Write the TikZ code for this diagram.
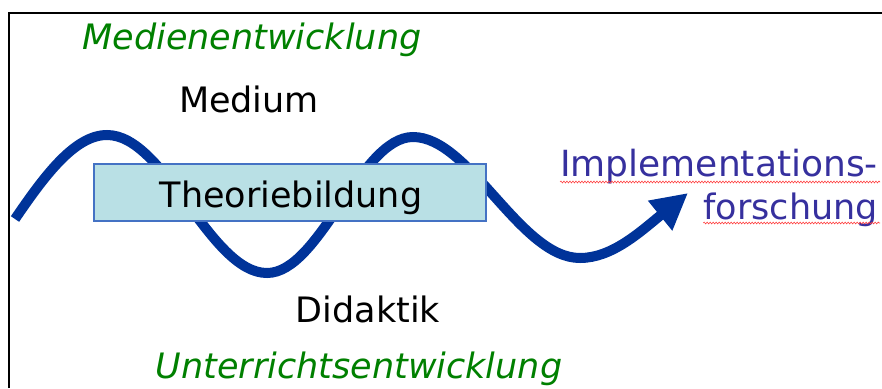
\documentclass[tikz,border=0pt]{standalone}
\usepackage{fontspec}
\setmainfont{DejaVu Sans}
\usetikzlibrary{arrows.meta,decorations.pathmorphing}
\definecolor{wave}{HTML}{003399}
\definecolor{boxfill}{HTML}{B9E0E5}
\definecolor{boxline}{HTML}{4472C4}
\definecolor{green1}{HTML}{008000}
\definecolor{impl}{HTML}{36309E}
\tikzset{
  lbl/.style={inner sep=0pt, font=\fontsize{35}{42}\selectfont},
  green lbl/.style={lbl, text=green1, font=\fontsize{35}{42}\selectfont\itshape},
  impl lbl/.style={lbl, text=impl, anchor=base east},
  wavy/.style={line width=10pt, draw=wave},
  squiggle/.style={draw=red!75, line width=0.6pt, decorate, decoration={snake, amplitude=0.9pt, segment length=3pt}},
}
\begin{document}
\begin{tikzpicture}[x=1pt, y=-1pt]
\useasboundingbox (0,0) rectangle (882,388);
% frame
\draw[line width=2pt] (8.7,388) -- (8.7,13.3) -- (882,13.3);
% wave
\coordinate (w0) at (15,219);
\coordinate (p1) at (107,135);
\coordinate (t1) at (267,273);
\coordinate (p2) at (413,137);
\coordinate (t2) at (580,258);
\coordinate (tip) at (688,193);
\draw[wavy, -{Triangle[length=36pt,width=36pt]}]
  (w0) .. controls (45,175) and (75,135) .. (p1)
  .. controls (165,135) and (210,273) .. (t1)
  .. controls (320,273) and (360,137) .. (p2)
  .. controls (470,137) and (520,258) .. (t2)
  .. controls (612,258) and (640,232) .. (tip);
% box
\node[draw=boxline, fill=boxfill, line width=1.3pt, minimum width=392pt, minimum height=57pt, inner sep=0pt] (box) at (290,192.5) {};
\node[lbl, anchor=base] (theo) at (291,207) {Theoriebildung};
% labels
\node[green lbl, anchor=base] (medent) at (252,49) {Medienentwicklung};
\node[lbl, anchor=base] (medium) at (249,112) {Medium};
\node[lbl, anchor=base] (didaktik) at (368,322) {Didaktik};
\node[green lbl, anchor=base] (unter) at (359,378) {Unterrichtsentwicklung};
\node[impl lbl, font=\fontsize{36}{43}\selectfont] (impl1) at (878,176) {Implementations-};
\node[impl lbl] (impl2) at (878,219) {forschung};
% spell-check squiggles
\draw[squiggle] ([yshift=-6pt]impl1.base west) -- ([xshift=2pt,yshift=-6pt]impl1.base east);
\draw[squiggle] ([yshift=-4pt]impl2.base west) -- ([xshift=2pt,yshift=-4pt]impl2.base east);
\end{tikzpicture}
\end{document}
